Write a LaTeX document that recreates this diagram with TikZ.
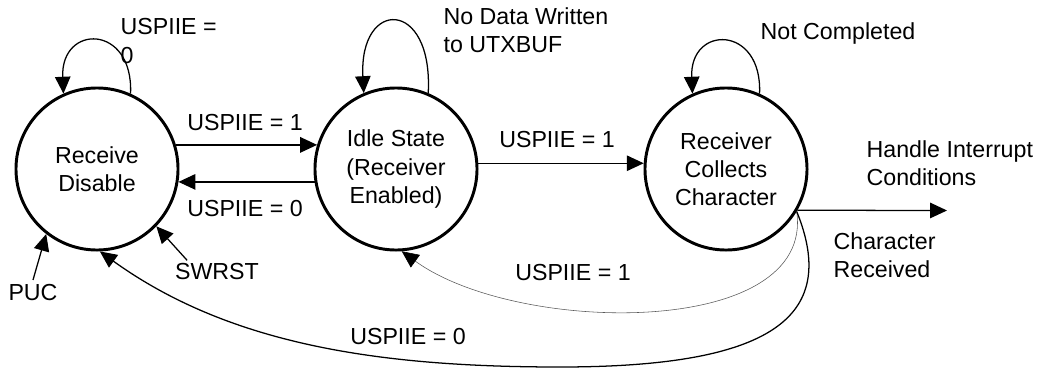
\documentclass[tikz,border=0pt]{standalone}
\usepackage{fontspec}
\setmainfont{Liberation Sans}
\usetikzlibrary{arrows.meta}

\begin{document}
\begin{tikzpicture}[x=0.025cm,y=0.025cm,line width=0.9pt,
  >={Triangle[length=12pt,width=11pt]},
  state/.style={circle,draw,line width=2.1pt,minimum size=4.05cm,inner sep=0pt,
    align=center,font=\fontsize{16.5}{20}\selectfont},
  lbl/.style={inner sep=0pt,align=left,font=\fontsize{16.5}{20}\selectfont}]
\useasboundingbox (0,0) rectangle (1040,378);
% ---------- 三个状态 ----------
\node[state] (rxoff) at (97,209) {Receive\\Disable};
\node[state] (idle) at (396,209) {Idle State\\(Receiver\\Enabled)};
\node[state] (collect) at (726,209) {Receiver\\Collects\\Character};
% ---------- 标签 ----------
\node[lbl,anchor=west] (l00) at (120,337) {USPIIE =\\0};
\node[lbl,anchor=west] (lnodata) at (443,348) {No Data Written\\to UTXBUF};
\node[lbl] (lnotdone) at (838,345) {Not Completed};
\node[lbl] (l11) at (245,255) {USPIIE = 1};
\node[lbl] (l10) at (245,169) {USPIIE = 0};
\node[lbl] (l21) at (557,238) {USPIIE = 1};
\node[lbl,anchor=west] (lhandle) at (866,215) {Handle Interrupt\\Conditions};
\node[lbl,anchor=west] (lchar) at (833,123) {Character\\Received};
\node[lbl] (l31) at (573,105) {USPIIE = 1};
\node[lbl] (l30) at (408,41) {USPIIE = 0};
\node[lbl] (puc) at (33,85) {PUC};
\node[lbl] (swrst) at (217,106) {SWRST};
\coordinate (hout) at (947,167.5);
% ---------- 自环 ----------
\draw[->] (rxoff.66) .. controls +(3,70) and +(-3,70) .. (rxoff.114);
\draw[->] (idle.67) .. controls +(5,95) and +(-5,95) .. (idle.113);
\draw[->] (collect.66) .. controls +(3,69) and +(-3,69) .. (collect.114);
% ---------- 状态之间 ----------
\draw[->] (rxoff.17) -- (idle.163);
\draw[->] (idle.189) -- (rxoff.351);
\draw[->] (idle.4) -- (collect.176);
\draw[->] (collect.-30) -- (hout);
\draw[-{Triangle[length=12pt,width=11pt,color=black]},gray!70!black,line width=0.4pt]
  (collect.-31) .. controls (815,39) and (517,43) .. (idle.-86);
\draw[->] (collect.-31) .. controls (840,60) and (770,11) .. (560,11)
  .. controls (380,11) and (230,33) .. (rxoff.-88);
% 复位
\draw[->] ([yshift=3pt]puc.north) -- (rxoff.232);
\draw[->] ([xshift=9pt,yshift=2pt]swrst.north west) -- (rxoff.-44);
\end{tikzpicture}
\end{document}
